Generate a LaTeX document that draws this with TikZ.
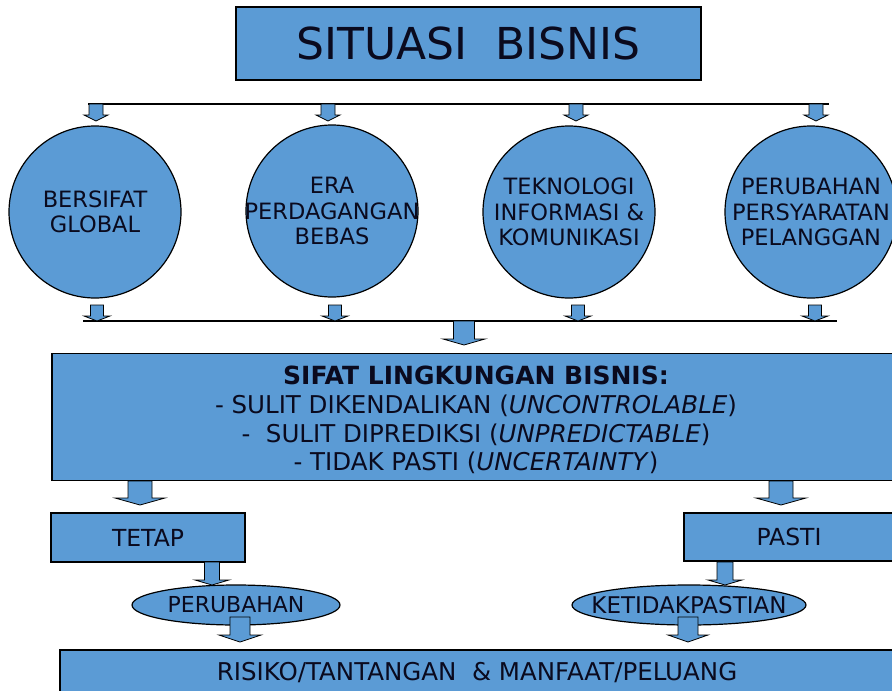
\documentclass[tikz,border=0pt]{standalone}
\usepackage{fontspec}
\setmainfont{DejaVu Sans}
\usetikzlibrary{calc,shapes.geometric}
\definecolor{boxblue}{RGB}{91,155,213}
\definecolor{inkc}{RGB}{10,10,30}
\newcommand\blockarr[5]{%
  \filldraw[arrsty] let \p1=(#1), \p2=(#2) in
   ({\x1-#3},\y1) -- ({\x1-#3},{\y2+#5}) -- ({\x1-#4},{\y2+#5}) -- (\x1,\y2)
   -- ({\x1+#4},{\y2+#5}) -- ({\x1+#3},{\y2+#5}) -- ({\x1+#3},\y1) -- cycle;}
\begin{document}
\begin{tikzpicture}[x=1pt,y=-1pt,
  box/.style={draw=black, line width=1.2pt, fill=boxblue, inner sep=0pt, text=inkc},
  circ/.style={circle, draw=black, line width=1.2pt, fill=boxblue, minimum size=172pt, inner sep=0pt},
  ell/.style={ellipse, draw=black, line width=1.2pt, fill=boxblue, inner sep=0pt},
  lbl/.style={align=center, text=inkc, inner sep=0pt},
  conn/.style={draw=black, line width=1.3pt},
  arrsty/.style={draw=black, line width=0.8pt, fill=boxblue}]
\useasboundingbox (0,0) rectangle (892,691);
\clip (0,0) rectangle (892,691);
% title
\node[box, minimum width=465pt, minimum height=73pt, font=\fontsize{44}{50}\selectfont] (title) at (468.5,43.5) {SITUASI\ \ BISNIS};
% lines
\coordinate (tl) at (88,104); \coordinate (tr) at (829,104);
\coordinate (bl) at (83,321); \coordinate (br) at (837,321);
\draw[conn] (tl) -- (tr);
\draw[conn] (bl) -- (br);
% circles
\node[circ] (c1) at (95,212) {};
\node[circ] (c2) at (332,211) {};
\node[circ] (c3) at (569,212) {};
\node[circ] (c4) at (811,212) {};
\node[lbl, font=\fontsize{22.5}{25.5}\selectfont] (c1t) at (c1) {BERSIFAT\\GLOBAL};
\node[lbl, font=\fontsize{22.5}{25.5}\selectfont] (c2t) at (c2) {ERA\\PERDAGANGAN\\BEBAS};
\node[lbl, font=\fontsize{22.5}{25.5}\selectfont] (c3t) at (c3) {TEKNOLOGI\\INFORMASI \&\\KOMUNIKASI};
\node[lbl, font=\fontsize{22.5}{25.5}\selectfont] (c4t) at (c4) {PERUBAHAN\\PERSYARATAN\\PELANGGAN};
% top arrows
\foreach \k/\xx in {1/96,2/328,3/576,4/816}{
  \coordinate (ta\k) at (\xx,104); \coordinate (tb\k) at (\xx,121);
  \blockarr{ta\k}{tb\k}{7pt}{12pt}{6pt}
}
% bottom arrows
\foreach \k/\xx in {1/97,2/335,3/578,4/815}{
  \coordinate (ba\k) at (\xx,305); \coordinate (bb\k) at (\xx,321);
  \blockarr{ba\k}{bb\k}{6.5pt}{13pt}{5pt}
}
% sifat box
\node[box, minimum width=841pt, minimum height=127pt] (sifat) at (472.5,417) {};
\node[lbl, font=\fontsize{24.5}{28.7}\selectfont] (sifatt) at (476,420)
  {{\fontsize{25}{28.7}\selectfont\textbf{SIFAT LINGKUNGAN BISNIS:}}\\- SULIT DIKENDALIKAN (\textit{UNCONTROLABLE})\\-\ \ SULIT DIPREDIKSI (\textit{UNPREDICTABLE})\\- TIDAK PASTI (\textit{UNCERTAINTY})};
\coordinate (bigA) at (464,321); \coordinate (bigB) at (464,345);
\blockarr{bigA}{bigB}{10.5pt}{21pt}{6pt}
% tetap / pasti
\node[box, minimum width=194pt, minimum height=49pt, font=\fontsize{23.5}{26}\selectfont] (tetap) at (148,537.5) {TETAP};
\node[box, minimum width=210pt, minimum height=48pt, font=\fontsize{23.5}{26}\selectfont] (pasti) at (789,537) {PASTI};
\coordinate (sa1) at (140,481); \coordinate (sb1) at (140,505);
\coordinate (sa2) at (781,481); \coordinate (sb2) at (781,505);
\blockarr{sa1}{sb1}{12pt}{25pt}{7pt}
\blockarr{sa2}{sb2}{12pt}{25pt}{7pt}
% ellipses
\node[ell, minimum width=208pt, minimum height=40pt] (perub) at (236,605) {};
\node[ell, minimum width=234pt, minimum height=40pt] (ketid) at (689,605) {};
\node[lbl, font=\fontsize{22}{25}\selectfont] (perubt) at (perub) {PERUBAHAN};
\node[lbl, font=\fontsize{23}{25}\selectfont] (ketidt) at (ketid) {KETIDAKPASTIAN};
\coordinate (pa1) at (212,562); \coordinate (pb1) at (212,585);
\coordinate (pa2) at (725,562); \coordinate (pb2) at (725,585);
\blockarr{pa1}{pb1}{7.5pt}{17pt}{5pt}
\blockarr{pa2}{pb2}{8pt}{17pt}{5pt}
% risiko
\node[box, minimum width=834pt, minimum height=46pt, font=\fontsize{24.5}{27}\selectfont] (risiko) at (477,673) {RISIKO/TANTANGAN\ \ \& MANFAAT/PELUANG};
\coordinate (ra1) at (240,617); \coordinate (rb1) at (240,642);
\coordinate (ra2) at (688,617); \coordinate (rb2) at (688,642);
\blockarr{ra1}{rb1}{10pt}{21pt}{7pt}
\blockarr{ra2}{rb2}{10pt}{20pt}{7pt}
\end{tikzpicture}
\end{document}
